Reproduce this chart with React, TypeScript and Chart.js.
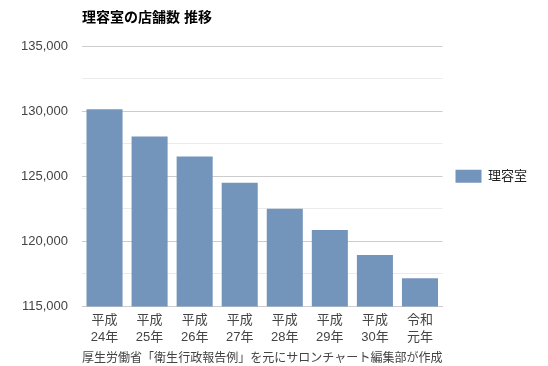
import React, { useEffect, useRef } from "react";
import { Chart, registerables } from "chart.js";

Chart.register(...registerables);

const categories: string[][] = [
  ["平成", "24年"],
  ["平成", "25年"],
  ["平成", "26年"],
  ["平成", "27年"],
  ["平成", "28年"],
  ["平成", "29年"],
  ["平成", "30年"],
  ["令和", "元年"],
];
const seriesName = "理容室";
const shopCounts: number[] = [130140, 128060, 126520, 124510, 122500, 120880, 118960, 117180];
const chartTitle = "理容室の店舗数 推移";
const sourceNote = "厚生労働省「衛生行政報告例」を元にサロンチャート編集部が作成";
const yMin = 115000;
const yMax = 135000;

const FONT = "Arial, 'Liberation Sans', 'Noto Sans CJK JP', sans-serif";

const titlePlugin = {
  id: "leftTitle",
  afterDraw(chart: any) {
    const { ctx, chartArea } = chart;
    ctx.save();
    ctx.font = `bold 14px ${FONT}`;
    ctx.fillStyle = "#000";
    ctx.textAlign = "left";
    ctx.textBaseline = "middle";
    ctx.fillText(chartTitle, chartArea.left, 18);
    ctx.restore();
  },
};

export default function App() {
  const ref = useRef<HTMLCanvasElement | null>(null);
  useEffect(() => {
    if (!ref.current) return;
    const chart = new Chart(ref.current, {
      type: "bar",
      data: {
        labels: categories,
        datasets: [
          {
            label: seriesName,
            data: shopCounts,
            backgroundColor: "#7495bb",
            borderWidth: 0,
            categoryPercentage: 0.8,
            barPercentage: 1.0,
          },
        ],
      },
      options: {
        responsive: false,
        animation: false,
        layout: { padding: { top: 46, right: 11, bottom: 0, left: 0 } },
        plugins: {
          title: { display: false },
          tooltip: { enabled: false },
          legend: {
            display: true,
            position: "right",
            fullSize: false,
            labels: {
              boxWidth: 26,
              boxHeight: 13,
              padding: 13,
              color: "#222",
              font: { family: FONT, size: 13 },
            },
          },
        },
        scales: {
          x: {
            grid: { display: false, drawTicks: false },
            border: { display: true, color: "#cccccc" },
            ticks: {
              color: "#444",
              padding: 5,
              maxRotation: 0,
              autoSkip: false,
              font: { family: FONT, size: 13, lineHeight: 1.35 },
            },
            title: {
              display: true,
              text: sourceNote,
              color: "#444",
              padding: { top: 0, bottom: 0 },
              font: { family: FONT, size: 12.5, lineHeight: 1.15 },
            },
          },
          y: {
            min: yMin,
            max: yMax,
            border: { display: false },
            grid: {
              drawTicks: false,
              color: (c: any) => (c.tick && c.tick.value % 5000 === 0 ? "#cccccc" : "#ebebeb"),
            },
            ticks: {
              stepSize: 2500,
              autoSkip: false,
              padding: 14,
              color: "#444",
              font: { family: FONT, size: 13 },
              callback: (v: any) => (Number(v) % 5000 === 0 ? Number(v).toLocaleString("en-US") : ""),
            },
            afterFit: (scale: any) => {
              scale.width = 82;
            },
          },
        },
      },
      plugins: [titlePlugin],
    });
    return () => chart.destroy();
  }, []);
  return (
    <div style={{ position: "absolute", left: 0, top: 0, width: 548, height: 366, background: "#fff" }}>
      <canvas ref={ref} width={548} height={366} />
    </div>
  );
}
